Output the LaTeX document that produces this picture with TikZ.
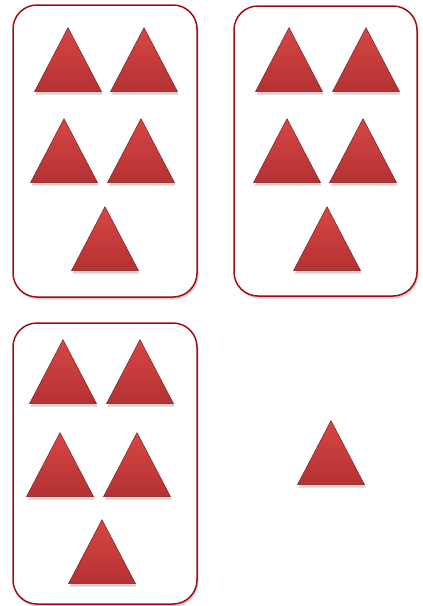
\documentclass[tikz,border=0pt]{standalone}
\usepackage{tikz}
\usetikzlibrary{shapes.geometric,shadows}
\definecolor{cardred}{HTML}{A00E10}
\definecolor{tritop}{HTML}{D64644}
\definecolor{tribot}{HTML}{B43232}
\definecolor{triedge}{HTML}{7E2020}

\begin{document}
\begin{tikzpicture}[
  x=1pt, y=-1pt,
  card/.style={draw=cardred, line width=1.5pt, fill=white, rounded corners=24pt,
               inner sep=0pt, drop shadow={shadow xshift=1.5pt, shadow yshift=-2.5pt, opacity=0.35}},
  tri/.style={isosceles triangle, isosceles triangle stretches, shape border rotate=90,
              minimum width=67pt, minimum height=64pt, inner sep=0pt, anchor=apex,
              top color=tritop, bottom color=tribot, draw=triedge, line width=0.5pt,
              drop shadow={shadow xshift=1pt, shadow yshift=-3pt, opacity=0.35}}
]
  \useasboundingbox (0,0) rectangle (423,606);

  \node[card, minimum width=184pt, minimum height=292pt] (card1) at (105,151) {};
  \node[card, minimum width=183pt, minimum height=290pt] (card2) at (325.5,151) {};
  \node[card, minimum width=184pt, minimum height=281pt] (card3) at (105,463.5) {};

  \node[tri] (t11) at (68,27) {};
  \node[tri] (t12) at (144,27) {};
  \node[tri] (t13) at (64,118) {};
  \node[tri] (t14) at (141,118) {};
  \node[tri] (t15) at (105,206) {};

  \node[tri] (t21) at (289,27) {};
  \node[tri] (t22) at (366,27) {};
  \node[tri] (t23) at (287,118) {};
  \node[tri] (t24) at (363,118) {};
  \node[tri] (t25) at (327,206) {};

  \node[tri] (t31) at (63,339) {};
  \node[tri] (t32) at (140,339) {};
  \node[tri] (t33) at (60,432) {};
  \node[tri] (t34) at (137,432) {};
  \node[tri] (t35) at (102,519) {};

  \node[tri] (lone) at (331,420) {};
\end{tikzpicture}
\end{document}
